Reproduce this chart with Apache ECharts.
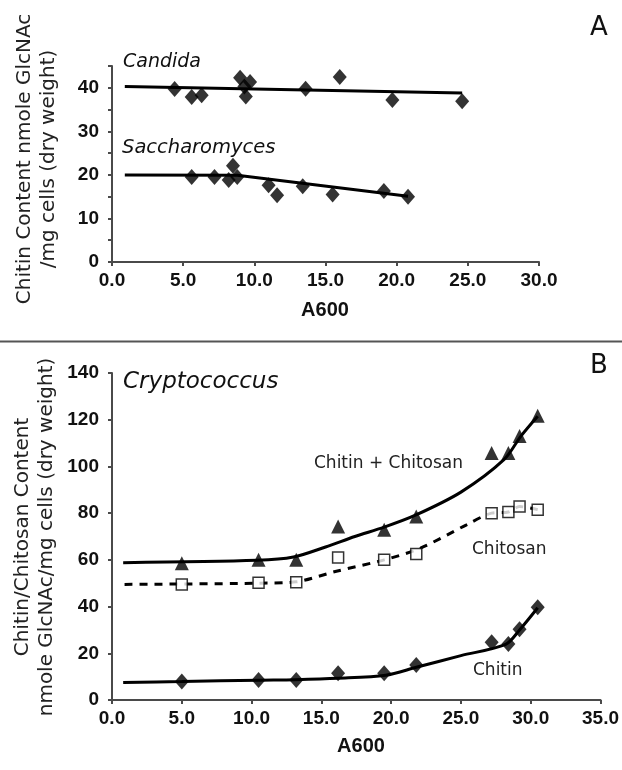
<!DOCTYPE html>
<html>
<head>
<meta charset="utf-8">
<script src="https://cdn.jsdelivr.net/npm/echarts@6/dist/echarts.min.js"></script>
<style>
html,body{margin:0;padding:0;background:#fff;}
#chart{width:622px;height:770px;}
</style>
</head>
<body>
<div id="chart"></div>
<script>
// ---------- Panel A data ----------
const candidaX = [4.4, 5.6, 6.3, 9.0, 9.7, 9.3, 9.4, 13.6, 16.0, 19.7, 24.6];
const candidaY = [39.7, 37.9, 38.3, 42.3, 41.3, 40.3, 38.0, 39.8, 42.5, 37.2, 36.9];
const candidaFitX = [0.9, 24.6];
const candidaFitY = [40.3, 38.8];

const saccX = [5.6, 7.2, 8.2, 8.5, 8.8, 11.0, 11.6, 13.4, 15.5, 19.1, 20.8];
const saccY = [19.5, 19.5, 18.8, 22.1, 19.5, 17.6, 15.3, 17.4, 15.5, 16.3, 15.0];
const saccFitX = [0.9, 8.8, 20.8];
const saccFitY = [20.0, 19.9, 15.1];

const xTicksA = [0, 5, 10, 15, 20, 25, 30];
const yTicksA = [0, 10, 20, 30, 40];

// ---------- Panel B data ----------
const bX = [5.0, 10.5, 13.2, 16.2, 19.5, 21.8, 27.2, 28.4, 29.2, 30.5];
const totalY = [58.6, 60.0, 60.0, 74.3, 72.9, 78.6, 105.7, 105.7, 113.0, 121.7];
const chitosanY = [49.5, 50.2, 50.4, 61.0, 60.0, 62.5, 80.0, 80.5, 82.8, 81.5];
const chitinY = [7.9, 8.6, 8.6, 11.4, 11.4, 15.0, 24.7, 24.0, 30.3, 39.7];

const totalFitX = [0.8, 10.4, 13.0, 15.3, 17.4, 19.5, 21.7, 25.0, 28.1, 29.3, 30.5];
const totalFitY = [58.8, 59.8, 61.2, 65.5, 70.0, 74.0, 79.0, 89.0, 103.0, 113.0, 121.5];
const chitosanFitX = [0.9, 10.5, 13.2, 16.0, 19.5, 22.1, 25.4, 27.2, 28.4, 29.2, 30.5];
const chitosanFitY = [49.5, 50.0, 50.6, 55.0, 60.0, 65.0, 75.0, 80.0, 80.5, 82.8, 81.5];
const chitinFitX = [0.8, 5.0, 10.5, 13.1, 16.2, 19.6, 21.8, 25.0, 28.2, 29.2, 30.5];
const chitinFitY = [7.5, 7.9, 8.5, 8.7, 9.3, 10.6, 14.0, 19.0, 23.8, 30.0, 39.5];

const xTicksB = [0, 5, 10, 15, 20, 25, 30, 35];
const yTicksB = [0, 20, 40, 60, 80, 100, 120, 140];

// ---------- helpers ----------
const zip = (xs, ys) => xs.map((x, i) => [x, ys[i]]);
const AX = '#4a4a4a';
const tickFont = { fontFamily: 'Liberation Sans', fontWeight: 'bold', fontSize: 19, color: '#111' };

function xAxisCfg(grid, ticks) {
  return {
    type: 'value', gridIndex: grid,
    min: ticks[0], max: ticks[ticks.length - 1], interval: 5,
    axisLine: { lineStyle: { color: AX, width: 2 } },
    axisTick: { length: 4, lineStyle: { color: AX, width: 2 } },
    splitLine: { show: false },
    axisLabel: Object.assign({ margin: 9, formatter: v => v.toFixed(1) }, tickFont)
  };
}

const option = {
  animation: false,
  backgroundColor: '#fff',
  grid: [
    { left: 112, top: 66, width: 427, height: 196 },
    { left: 112, top: 373, width: 499, height: 327 }
  ],
  xAxis: [xAxisCfg(0, xTicksA), xAxisCfg(1, xTicksB)],
  yAxis: [
    {
      type: 'value', gridIndex: 0, min: 0, max: 45, interval: 5,
      axisLine: { show: true, lineStyle: { color: AX, width: 2 } },
      axisTick: { show: true, length: 4, lineStyle: { color: AX, width: 2 } },
      splitLine: { show: false },
      axisLabel: Object.assign({ margin: 13, formatter: v => (yTicksA.indexOf(v) >= 0 ? String(v) : '') }, tickFont)
    },
    {
      type: 'value', gridIndex: 1, min: yTicksB[0], max: yTicksB[yTicksB.length - 1], interval: 20,
      axisLine: { show: true, lineStyle: { color: AX, width: 2 } },
      axisTick: { show: true, length: 4, lineStyle: { color: AX, width: 2 } },
      splitLine: { show: false },
      axisLabel: Object.assign({ margin: 13 }, tickFont)
    }
  ],
  series: [
    // Panel A fits
    { type: 'line', xAxisIndex: 0, yAxisIndex: 0, data: zip(candidaFitX, candidaFitY), symbol: 'none', lineStyle: { color: '#000', width: 3 }, z: 2 },
    { type: 'line', xAxisIndex: 0, yAxisIndex: 0, data: zip(saccFitX, saccFitY), symbol: 'none', lineStyle: { color: '#000', width: 3 }, z: 2 },
    // Panel A points
    { type: 'scatter', xAxisIndex: 0, yAxisIndex: 0, data: zip(candidaX, candidaY), symbol: 'diamond', symbolSize: [14, 16], itemStyle: { color: '#000' }, z: 3 },
    { type: 'scatter', xAxisIndex: 0, yAxisIndex: 0, data: zip(saccX, saccY), symbol: 'diamond', symbolSize: [14, 16], itemStyle: { color: '#000' }, z: 3 },
    // Panel B fits
    { type: 'line', xAxisIndex: 1, yAxisIndex: 1, data: zip(totalFitX, totalFitY), smooth: 0.3, symbol: 'none', lineStyle: { color: '#000', width: 3 }, z: 2 },
    { type: 'line', xAxisIndex: 1, yAxisIndex: 1, data: zip(chitosanFitX, chitosanFitY), smooth: 0.3, symbol: 'none', lineStyle: { color: '#000', width: 3, type: [8, 7] }, z: 2 },
    { type: 'line', xAxisIndex: 1, yAxisIndex: 1, data: zip(chitinFitX, chitinFitY), smooth: 0.3, symbol: 'none', lineStyle: { color: '#000', width: 3 }, z: 2 },
    // Panel B points
    { type: 'scatter', xAxisIndex: 1, yAxisIndex: 1, data: zip(bX, totalY), symbol: 'triangle', symbolSize: 14, itemStyle: { color: '#000' }, z: 3 },
    { type: 'scatter', xAxisIndex: 1, yAxisIndex: 1, data: zip(bX, chitosanY), symbol: 'rect', symbolSize: 11, itemStyle: { color: '#fff', borderColor: '#000', borderWidth: 1.5 }, z: 3 },
    { type: 'scatter', xAxisIndex: 1, yAxisIndex: 1, data: zip(bX, chitinY), symbol: 'diamond', symbolSize: [14, 16], itemStyle: { color: '#000' }, z: 3 }
  ],
  graphic: [
    // separator
    { type: 'line', shape: { x1: 0, y1: 341.5, x2: 622, y2: 341.5 }, style: { stroke: '#555', lineWidth: 2 }, z: 10 },
    // panel letters
    txt('A', 599, 28, '26px "DejaVu Sans"', 'center', '#111'),
    txt('B', 599, 366, '26px "DejaVu Sans"', 'center', '#111'),
    // species labels
    txt('Candida', 123, 62, 'italic 19px "DejaVu Sans"', 'left', '#111'),
    txt('Saccharomyces', 122, 148, 'italic 19.5px "DejaVu Sans"', 'left', '#111'),
    txt('Cryptococcus', 123, 382, 'italic 23px "DejaVu Sans"', 'left', '#111'),
    txt('Chitin + Chitosan', 314, 464, '17px "DejaVu Sans"', 'left', '#222'),
    txt('Chitosan', 472, 550, '17px "DejaVu Sans"', 'left', '#222'),
    txt('Chitin', 473, 671, '17px "DejaVu Sans"', 'left', '#222'),
    // x titles
    txt('A600', 325, 310, 'bold 20px "Liberation Sans"', 'center', '#111'),
    txt('A600', 361, 746, 'bold 20px "Liberation Sans"', 'center', '#111'),
    // y titles
    rot('Chitin Content nmole GlcNAc\n/mg cells (dry weight)', 37, 159),
    rot('Chitin/Chitosan Content\nnmole GlcNAc/mg cells (dry weight)', 35, 537)
  ]
};

function txt(t, x, y, font, align, color) {
  return { type: 'text', x: x, y: y, z: 10,
    style: { text: t, font: font, fill: color, align: align, verticalAlign: 'middle', textAlign: align, textVerticalAlign: 'middle' } };
}
function rot(t, x, y) {
  return { type: 'text', x: x, y: y, rotation: Math.PI / 2, z: 10,
    style: { text: t, font: '20px "DejaVu Sans"', fill: '#222', lineHeight: 24, align: 'center', verticalAlign: 'middle', textAlign: 'center', textVerticalAlign: 'middle' } };
}

const chart = echarts.init(document.getElementById('chart'), null, { renderer: 'canvas' });
chart.setOption(option);
</script>
</body>
</html>
